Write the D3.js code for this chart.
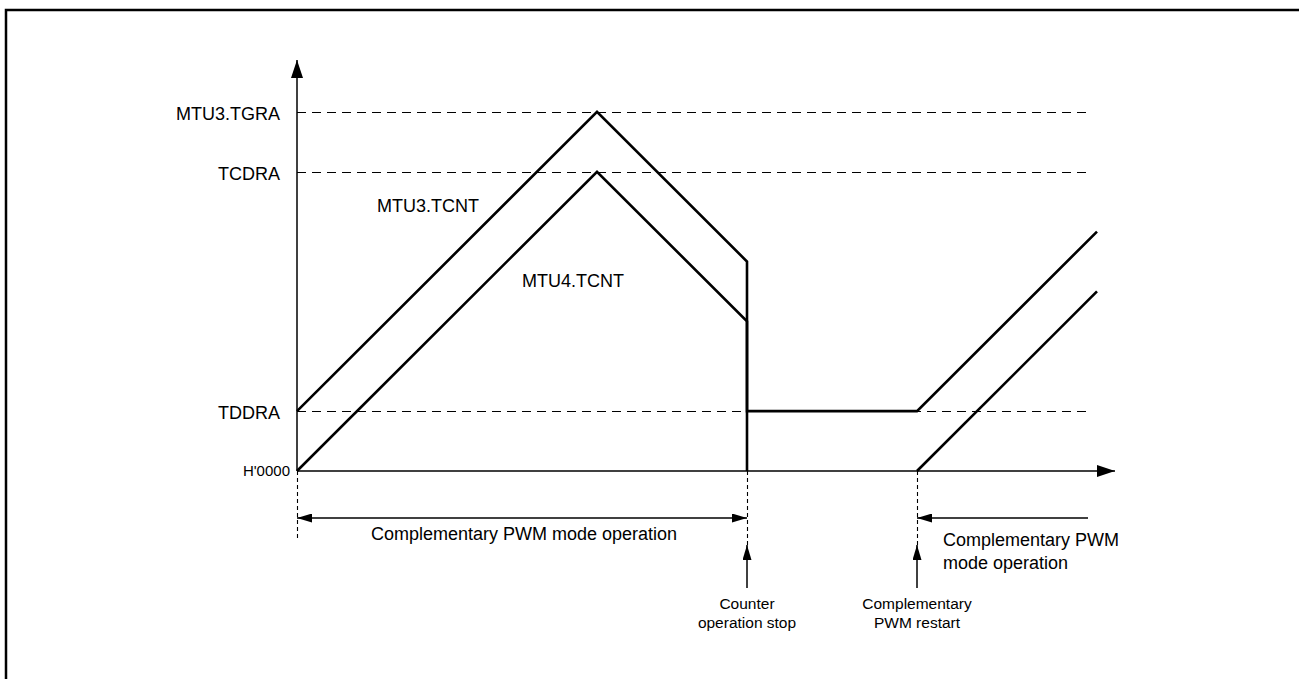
<!DOCTYPE html>
<html>
<head>
<meta charset="utf-8">
<script src="https://cdn.jsdelivr.net/npm/d3@7"></script>
<style>
  html, body { margin: 0; background: #fff; overflow: hidden; }
  svg { display: block; }
  text { font-family: "Liberation Sans", Arial, sans-serif; fill: #000; }
</style>
</head>
<body>
<svg></svg>
<script>
// register levels (counter values) and their labels
var levelNames = ["H'0000", "TDDRA", "TCDRA", "MTU3.TGRA"]
var levelValues = [0, 60, 300, 360]

// counter waveforms (time, count)
var mtu3Time = [0, 300, 450, 450, 620, 800]
var mtu3Count = [60, 360, 210, 60, 60, 240]
var mtu4Time = [0, 300, 450, 450]
var mtu4Count = [0, 300, 150, 0]
var mtu4RestartTime = [620, 800]
var mtu4RestartCount = [0, 180]

// events on the time axis
var eventTimes = [0, 450, 620]
var eventLabels = [null, ["Counter", "operation stop"], ["Complementary", "PWM restart"]]

var width = 1299
var height = 679

var svg = d3.select("svg")
  .attr("width", width)
  .attr("height", height)

// frame (runs off the right and bottom edges)
svg.append("path")
  .attr("d", "M6,700V10H1299")
  .attr("fill", "none")
  .attr("stroke", "#000")
  .attr("stroke-width", 2.5)

var x = d3.scaleLinear().domain([0, 818]).range([297, 1115])
var y = d3.scaleLinear().domain([0, 412]).range([471, 60])

// arrow markers
var defs = svg.append("defs")
function marker(id, w, h) {
  defs.append("marker")
    .attr("id", id)
    .attr("viewBox", "0 0 " + w + " " + h)
    .attr("refX", w).attr("refY", h / 2)
    .attr("markerWidth", w).attr("markerHeight", h)
    .attr("markerUnits", "userSpaceOnUse")
    .attr("orient", "auto-start-reverse")
    .append("path")
    .attr("d", "M0,0L" + w + "," + (h / 2) + "L0," + h + "Z")
    .attr("fill", "#000")
}
marker("big", 18, 12)
marker("small", 15, 9)

// dashed level lines
svg.selectAll(".level")
  .data(levelValues.slice(1))
  .enter().append("line")
  .attr("class", "level")
  .attr("x1", x(0)).attr("x2", x(791))
  .attr("y1", function (d) { return Math.round(y(d)) + 0.5 })
  .attr("y2", function (d) { return Math.round(y(d)) + 0.5 })
  .attr("stroke", "#000")
  .attr("stroke-width", 1.1)
  .attr("stroke-dasharray", "9,6")

// level labels
svg.selectAll(".levelLabel")
  .data(levelNames)
  .enter().append("text")
  .attr("x", function (d, i) { return i == 0 ? x(0) - 7 : x(0) - 17 })
  .attr("y", function (d, i) { return y(levelValues[i]) })
  .attr("dy", function (d, i) { return i == 0 ? "0.35em" : "0.45em" })
  .attr("text-anchor", "end")
  .style("font-size", function (d, i) { return i == 0 ? "15px" : "18px" })
  .text(function (d) { return d })

// dashed event guides below the axis
svg.selectAll(".guide")
  .data(eventTimes)
  .enter().append("line")
  .attr("x1", function (d) { return Math.round(x(d)) + 0.5 })
  .attr("x2", function (d) { return Math.round(x(d)) + 0.5 })
  .attr("y1", y(0))
  .attr("y2", function (d, i) { return i == 0 ? 540 : 545 })
  .attr("stroke", "#000")
  .attr("stroke-width", 1.1)
  .attr("stroke-dasharray", "4,3")

// axes
svg.append("line")
  .attr("x1", x(0)).attr("x2", x(818))
  .attr("y1", y(0)).attr("y2", y(0))
  .attr("stroke", "#000").attr("stroke-width", 1.5)
  .attr("marker-end", "url(#big)")
svg.append("line")
  .attr("x1", x(0)).attr("x2", x(0))
  .attr("y1", y(0)).attr("y2", y(412))
  .attr("stroke", "#000").attr("stroke-width", 1.5)
  .attr("marker-end", "url(#big)")

// waveforms
var line = d3.line()
  .x(function (d) { return x(d[0]) })
  .y(function (d) { return y(d[1]) })

var waves = [
  d3.zip(mtu3Time, mtu3Count),
  d3.zip(mtu4Time, mtu4Count),
  d3.zip(mtu4RestartTime, mtu4RestartCount)
]
svg.selectAll(".wave")
  .data(waves)
  .enter().append("path")
  .attr("d", line)
  .attr("fill", "none")
  .attr("stroke", "#000")
  .attr("stroke-width", 2.6)
  .attr("stroke-linejoin", "miter")

svg.append("text")
  .attr("x", 377).attr("y", 212)
  .style("font-size", "18px")
  .text("MTU3.TCNT")
svg.append("text")
  .attr("x", 522).attr("y", 287)
  .style("font-size", "18px")
  .text("MTU4.TCNT")

// operating period arrows
var spanY = 518
svg.append("line")
  .attr("x1", x(eventTimes[0])).attr("x2", x(eventTimes[1]))
  .attr("y1", spanY).attr("y2", spanY)
  .attr("stroke", "#000").attr("stroke-width", 1.5)
  .attr("marker-start", "url(#small)")
  .attr("marker-end", "url(#small)")
svg.append("line")
  .attr("x1", x(791)).attr("x2", x(eventTimes[2]))
  .attr("y1", spanY).attr("y2", spanY)
  .attr("stroke", "#000").attr("stroke-width", 1.5)
  .attr("marker-end", "url(#small)")

svg.append("text")
  .attr("x", (x(eventTimes[0]) + x(eventTimes[1])) / 2 + 2)
  .attr("y", 540)
  .attr("text-anchor", "middle")
  .style("font-size", "18px")
  .text("Complementary PWM mode operation")
svg.append("text")
  .attr("x", x(eventTimes[2]) + 26).attr("y", 546)
  .style("font-size", "18px")
  .selectAll("tspan")
  .data(["Complementary PWM", "mode operation"])
  .enter().append("tspan")
  .attr("x", x(eventTimes[2]) + 26)
  .attr("dy", function (d, i) { return i == 0 ? 0 : 23 })
  .text(function (d) { return d })

// event arrows and captions
eventTimes.forEach(function (t, i) {
  if (!eventLabels[i]) return
  svg.append("line")
    .attr("x1", x(t)).attr("x2", x(t))
    .attr("y1", 588).attr("y2", 545)
    .attr("stroke", "#000").attr("stroke-width", 1.5)
    .attr("marker-end", "url(#small)")
  svg.append("text")
    .attr("text-anchor", "middle")
    .style("font-size", "15.5px")
    .selectAll("tspan")
    .data(eventLabels[i])
    .enter().append("tspan")
    .attr("x", x(t))
    .attr("y", function (d, j) { return 609 + j * 19 })
    .text(function (d) { return d })
})
</script>
</body>
</html>
